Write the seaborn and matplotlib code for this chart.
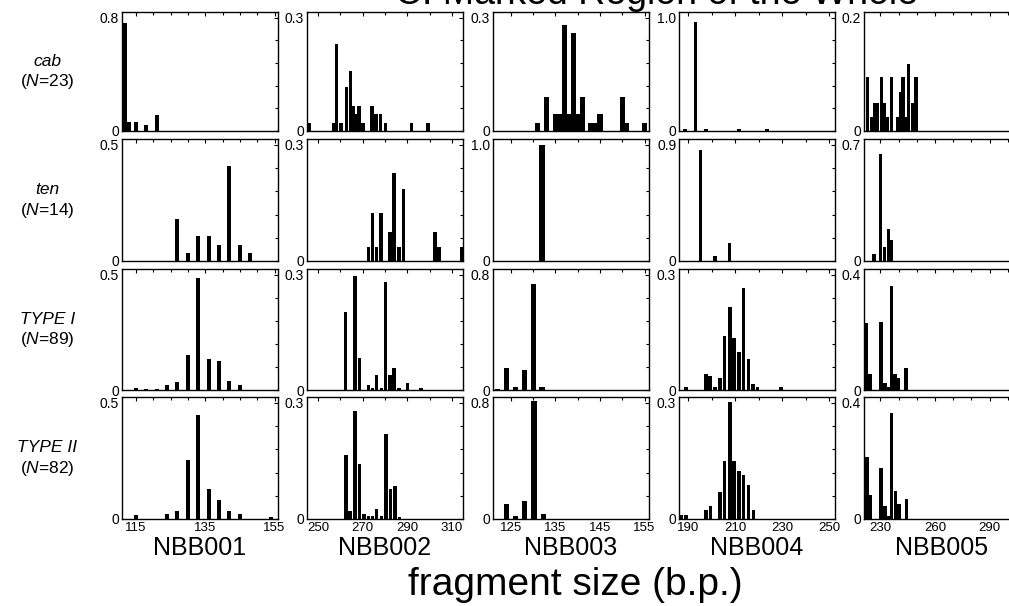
import matplotlib
matplotlib.use("Agg")
import matplotlib.pyplot as plt
from matplotlib.ticker import MultipleLocator
import seaborn as sns

# ---- data ----
markers = ["NBB001", "NBB002", "NBB003", "NBB004", "NBB005"]
groups = ["cab", "ten", "TYPE I", "TYPE II"]
group_n = [23, 14, 89, 82]
y_max = [
    [0.8, 0.3, 0.3, 1.0, 0.2],
    [0.5, 0.3, 1.0, 0.9, 0.7],
    [0.5, 0.3, 0.8, 0.3, 0.4],
    [0.5, 0.3, 0.8, 0.3, 0.4],
]
x_range = [(111, 156), (245, 315), (121, 156), (186, 252.4), (221, 306.7)]
x_ticks = [[115, 135, 155], [250, 270, 290, 310], [125, 135, 145, 155],
           [190, 210, 230, 250], [230, 260, 290]]

# cab (N=23)
cab_001_bp = [112, 113, 115, 118, 121]
cab_001_fr = [0.76, 0.065, 0.065, 0.043, 0.11]
cab_002_bp = [246, 257, 258.3, 260.2, 262.6, 264.4, 265.6, 266.9, 268.3, 270.1,
              274.1, 276, 278.1, 280.3, 292, 299.3]
cab_002_fr = [0.022, 0.022, 0.23, 0.022, 0.116, 0.16, 0.066, 0.044, 0.066, 0.022,
              0.066, 0.044, 0.044, 0.022, 0.022, 0.022]
cab_003_bp = [131, 133, 135, 136, 137, 138, 139, 140, 141, 143, 144, 145, 150, 151, 155]
cab_003_fr = [0.022, 0.09, 0.046, 0.046, 0.28, 0.046, 0.26, 0.046, 0.09, 0.022,
              0.022, 0.046, 0.09, 0.022, 0.022]
cab_004_bp = [188.5, 193, 197.5, 211.5, 223.5]
cab_004_fr = [0.022, 0.96, 0.022, 0.022, 0.022]
cab_005_bp = [223, 225, 227, 228.5, 230.5, 232, 234, 236, 239.5, 241, 242.5, 244,
              245.5, 247.5, 249.5]
cab_005_fr = [0.095, 0.024, 0.049, 0.049, 0.095, 0.049, 0.024, 0.095, 0.024, 0.069,
              0.095, 0.024, 0.119, 0.049, 0.095]

# ten (N=14)
ten_001_bp = [127, 130, 133, 136, 139, 142, 145, 148]
ten_001_fr = [0.18, 0.036, 0.107, 0.107, 0.071, 0.41, 0.071, 0.036]
ten_002_bp = [272.5, 274.3, 276.2, 278.2, 282.2, 284.1, 286.3, 288.2, 302.4, 304.2, 314.4]
ten_002_fr = [0.036, 0.124, 0.036, 0.124, 0.075, 0.226, 0.036, 0.187, 0.075, 0.036, 0.036]
ten_003_bp = [132]
ten_003_fr = [1.0]
ten_004_bp = [195.2, 201.3, 207.4]
ten_004_fr = [0.86, 0.04, 0.14]
ten_005_bp = [226.5, 230.2, 232.3, 234.6, 236.3]
ten_005_fr = [0.045, 0.645, 0.085, 0.19, 0.125]

# TYPE I (N=89)
t1_001_bp = [115, 118, 121, 124, 127, 130, 133, 136, 139, 142, 145]
t1_001_fr = [0.01, 0.006, 0.006, 0.02, 0.034, 0.152, 0.487, 0.135, 0.124, 0.04, 0.022]
t1_002_bp = [262.4, 266.5, 268.5, 272.5, 274.3, 276.2, 278.5, 280.3, 282.2, 284.1,
             286.3, 290.1, 296.1]
t1_002_fr = [0.202, 0.298, 0.083, 0.012, 0.006, 0.039, 0.006, 0.282, 0.039, 0.058,
             0.006, 0.018, 0.006]
t1_003_bp = [122, 124, 126, 128, 130, 132]
t1_003_fr = [0.006, 0.15, 0.02, 0.139, 0.736, 0.023]
t1_004_bp = [188.9, 197.4, 199.2, 201.3, 203.4, 205.4, 207.6, 209.5, 211.5, 213.5,
             215.6, 217.6, 219.4, 229.5]
t1_004_fr = [0.007, 0.042, 0.037, 0.008, 0.03, 0.141, 0.217, 0.135, 0.098, 0.265,
             0.081, 0.015, 0.008, 0.008]
t1_005_bp = [222.5, 224.3, 230.3, 232.5, 234.4, 236.2, 238, 239.8, 244.1]
t1_005_fr = [0.231, 0.056, 0.237, 0.023, 0.012, 0.361, 0.056, 0.04, 0.075]

# TYPE II (N=82)
t2_001_bp = [115, 124, 127, 130, 133, 136, 139, 142, 145, 154]
t2_001_fr = [0.017, 0.023, 0.033, 0.255, 0.449, 0.129, 0.083, 0.033, 0.02, 0.007]
t2_002_bp = [262.5, 264.3, 266.5, 268.5, 270.6, 272.5, 274.3, 276.2, 278.5, 280.4,
             282.5, 284.5, 286.4]
t2_002_fr = [0.166, 0.021, 0.28, 0.142, 0.014, 0.008, 0.008, 0.027, 0.008, 0.22,
             0.078, 0.084, 0.006]
t2_003_bp = [124.1, 126.1, 128.1, 130.2, 132.4]
t2_003_fr = [0.10, 0.02, 0.121, 0.81, 0.034]
t2_004_bp = [187, 189, 197.4, 199.5, 203.4, 205.4, 207.6, 209.5, 211.5, 213.5, 215.6, 217.8]
t2_004_fr = [0.01, 0.01, 0.024, 0.033, 0.069, 0.15, 0.302, 0.15, 0.125, 0.113, 0.089, 0.024]
t2_005_bp = [222.6, 224.3, 230.3, 232.5, 234.4, 236.2, 238.4, 240.3, 244.5]
t2_005_fr = [0.212, 0.084, 0.176, 0.046, 0.012, 0.365, 0.095, 0.053, 0.07]

panel_bp = [
    [cab_001_bp, cab_002_bp, cab_003_bp, cab_004_bp, cab_005_bp],
    [ten_001_bp, ten_002_bp, ten_003_bp, ten_004_bp, ten_005_bp],
    [t1_001_bp, t1_002_bp, t1_003_bp, t1_004_bp, t1_005_bp],
    [t2_001_bp, t2_002_bp, t2_003_bp, t2_004_bp, t2_005_bp],
]
panel_fr = [
    [cab_001_fr, cab_002_fr, cab_003_fr, cab_004_fr, cab_005_fr],
    [ten_001_fr, ten_002_fr, ten_003_fr, ten_004_fr, ten_005_fr],
    [t1_001_fr, t1_002_fr, t1_003_fr, t1_004_fr, t1_005_fr],
    [t2_001_fr, t2_002_fr, t2_003_fr, t2_004_fr, t2_005_fr],
]

# ---- styling ----
sns.set_theme(style="white")
plt.rcParams["font.family"] = ["Liberation Sans", "DejaVu Sans"]
plt.rcParams["mathtext.fontset"] = "custom"
plt.rcParams["mathtext.rm"] = "Liberation Sans"
plt.rcParams["mathtext.it"] = "Liberation Sans:italic"
plt.rcParams["text.color"] = "black"
plt.rcParams["xtick.color"] = "black"
plt.rcParams["ytick.color"] = "black"
plt.rcParams["axes.edgecolor"] = "black"

W, H = 1009, 606
fig = plt.figure(figsize=(W / 100, H / 100), dpi=100)
fig.patch.set_facecolor("white")

col_left = [122, 307, 493, 679, 864]
col_w = 156
row_box = [(12, 131), (139, 261), (269, 390), (397, 519)]
bar_w = [1.15, 1.5, 1.15, 1.5, 1.8]
minor_x = [5, 10, 5, 10, 10]

for r in range(4):
    top, bot = row_box[r]
    for c in range(5):
        ax = fig.add_axes([col_left[c] / W, 1 - bot / H, col_w / W, (bot - top) / H])
        ax.bar(panel_bp[r][c], panel_fr[r][c], width=bar_w[c], color="black",
               linewidth=0, align="center")
        ym = y_max[r][c]
        ax.set_xlim(*x_range[c])
        ax.set_ylim(0, ym * 1.05)
        ax.set_xticks(x_ticks[c])
        ax.xaxis.set_minor_locator(MultipleLocator(minor_x[c]))
        ax.set_yticks([0, ym])
        ax.set_yticklabels(["0", f"{ym:.1f}"])
        ax.yaxis.set_minor_locator(MultipleLocator(ym / 5))
        ax.tick_params(which="both", direction="in", top=True, right=True,
                       width=0.8, colors="black", labelcolor="black",
                       labelsize=10, pad=2)
        ax.tick_params(which="major", length=3)
        ax.tick_params(which="minor", length=2)
        if r < 3:
            ax.tick_params(labelbottom=False)
        else:
            ax.set_xticklabels([str(t) for t in x_ticks[c]], fontsize=9.5)
        for s in ax.spines.values():
            s.set_visible(True)
            s.set_linewidth(1.0)
            s.set_color("black")
        ax.set_facecolor("white")
        ax.grid(False)

    # row labels
    yc = 1 - (top + bot) / 2 / H
    fig.text(0.047, yc + 10 / H, groups[r], ha="center", va="center",
             fontsize=12.5, fontstyle="italic")
    fig.text(0.047, yc - 10 / H, rf"($\mathit{{N}}$={group_n[r]})", ha="center",
             va="center", fontsize=12.5)

for c in range(5):
    fig.text((col_left[c] + col_w / 2) / W, 1 - 548 / H, markers[c], ha="center",
             va="center", fontsize=18)

fig.text(575 / W, 1 - 585 / H, "fragment size (b.p.)", ha="center", va="center",
         fontsize=28)
# title line sits mostly above the top edge, as in the reference
fig.text(395 / W, 1 - 4 / H, "C. Marked Region of the Whole", ha="left",
         va="baseline", fontsize=27)

fig.savefig("out.png", dpi=100)
